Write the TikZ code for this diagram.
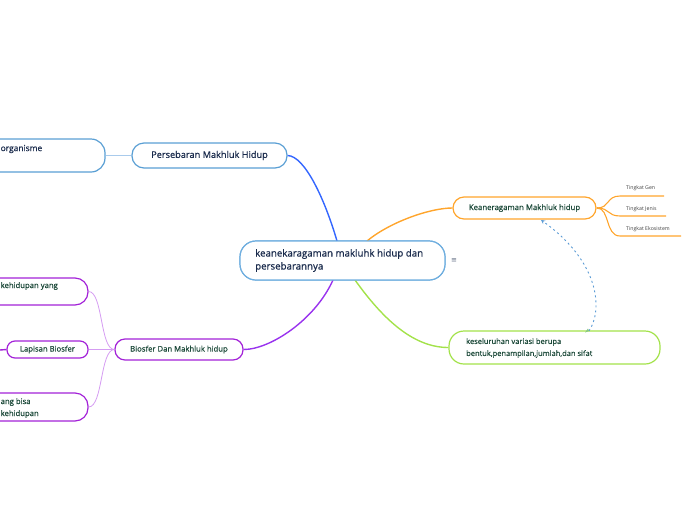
\documentclass[tikz,border=0pt]{standalone}
\usepackage{fontspec}
\setmainfont{Open Sans}[FakeBold=0.6]
\newfontfamily\thinf{Open Sans}
\newfontfamily\djv{DejaVu Sans}
\usetikzlibrary{arrows.meta}
\definecolor{navy}{HTML}{1A2B4C}
\definecolor{dgreen}{HTML}{1D4A3A}
\definecolor{cblue}{HTML}{6FAEDF}
\definecolor{pblue}{HTML}{5A9FD4}
\definecolor{lblue}{HTML}{A9CBEC}
\definecolor{mblue}{HTML}{3366FF}
\definecolor{corange}{HTML}{FFA52C}
\definecolor{cgreen}{HTML}{A3E24A}
\definecolor{cpurple}{HTML}{9933EE}
\definecolor{bpurple}{HTML}{A322D8}
\definecolor{lpurple}{HTML}{D59CF2}
\definecolor{dblue}{HTML}{5B9BD5}
\tikzset{
  x=1pt, y=1pt,
  pill/.style={draw, rectangle, line width=1.2pt, fill=white, inner sep=0pt},
  lbl/.style={inner sep=0pt, align=left},
  conn/.style={line width=1.4pt},
  sub/.style={line width=0.8pt},
}
\begin{document}
\begin{tikzpicture}
\useasboundingbox (0,0) rectangle (696,-520);
\clip (0,0) rectangle (696,-520);
\coordinate (cTopL) at (337,-241);
\coordinate (cTopR) at (367,-241);
\coordinate (cBotL) at (333,-280);
\coordinate (cBotR) at (355,-280);
% nodes
\node[pill, draw=cblue, minimum width=205, minimum height=39, rounded corners=16] (center) at (342.5,-260.5) {};
\node[inner sep=0pt, text=navy!70, font=\djv\fontsize{7}{8}\selectfont] (menu) at (454,-261) {≡};

\node[pill, draw=pblue, minimum width=155, minimum height=25, rounded corners=12, font=\fontsize{9.2}{11}\selectfont, text=navy] (pers) at (209.5,-155.5) {Persebaran Makhluk Hidup};
\node[pill, draw=pblue, minimum width=205, minimum height=33, rounded corners=14] (org) at (2.5,-155.5) {};
\node[lbl, anchor=west, text=navy, font=\fontsize{8.4}{11}\selectfont] (orgT) at (0.5,-149) {organisme};

\node[pill, draw=corange, minimum width=143, minimum height=22, rounded corners=11, font=\fontsize{7.8}{10}\selectfont, text=dgreen] (kean) at (524.5,-208) {Keaneragaman Makhluk hidup};

\node[pill, draw=cgreen, minimum width=211, minimum height=33, rounded corners=15] (kes) at (554.5,-347.5) {};
\node[lbl, anchor=west, text=dgreen, font=\fontsize{7.5}{12}\selectfont] (kesT) at (466,-348) {keseluruhan variasi berupa\\bentuk,penampilan,jumlah,dan sifat};

\node[pill, draw=bpurple, minimum width=128, minimum height=21, rounded corners=10, font=\fontsize{7.7}{10}\selectfont, text=dgreen] (bio) at (179,-349.5) {Biosfer Dan Makhluk hidup};
\node[pill, draw=bpurple, minimum width=81, minimum height=17, rounded corners=8, font=\fontsize{7.7}{10}\selectfont, text=dgreen] (lap) at (47.5,-349.5) {Lapisan Biosfer};
\node[pill, draw=bpurple, minimum width=208, minimum height=27, rounded corners=13] (kehA) at (-16,-291.5) {};
\node[lbl, anchor=west, text=dgreen, font=\fontsize{7.7}{10}\selectfont] (kehAT) at (0.5,-286) {kehidupan yang};
\node[pill, draw=bpurple, minimum width=208, minimum height=28, rounded corners=13] (kehB) at (-16,-407) {};
\node[lbl, anchor=west, text=dgreen, font=\fontsize{7.7}{12}\selectfont] (kehBT) at (0.5,-408) {ang bisa\\kehidupan};

% Tingkat labels
\tikzset{tk/.style={inner sep=0pt, anchor=base west, text=black!75, font=\thinf\fontsize{5.2}{6}\selectfont}}
\node[tk] (gen) at (626,-189.5) {Tingkat Gen};
\node[tk] (jen) at (626,-210.5) {Tingkat Jenis};
\node[tk] (eko) at (626,-230.5) {Tingkat Ekosistem};
\coordinate (genL) at (620,-196); \coordinate (genR) at (664,-196);
\coordinate (jenL) at (620,-216); \coordinate (jenR) at (666,-216);
\coordinate (ekoL) at (620,-236); \coordinate (ekoR) at (681,-236);
\coordinate (kJ) at (597,-208);

% main connectors
\draw[conn, mblue] (cTopL) .. controls (325,-200) and (305,-156) .. (pers.east);
\draw[conn, corange] (cTopR) .. controls (390,-222) and (430,-208) .. (kean.west);
\draw[conn, cpurple] (cBotL) .. controls (315,-320) and (270,-349.5) .. (bio.east);
\draw[conn, cgreen] (cBotR) .. controls (385,-322) and (415,-347.5) .. (kes.west);
\draw[conn, lblue] (org.east) -- (pers.west);
% purple children
\draw[sub, lpurple] (bio.west) .. controls (100,-349.5) and (103,-291.5) .. (kehA.east);
\draw[sub, lpurple] (bio.west) -- (lap.east);
\draw[sub, lpurple] (bio.west) .. controls (100,-349.5) and (103,-407) .. (kehB.east);
\coordinate (lapOut) at (0,-350);
\draw[conn, bpurple] (lap.west) -- (lapOut);
% orange children
\draw[corange, line width=1.1pt] (kean.east) -- (kJ);
\draw[corange, line width=1.1pt] (kJ) .. controls (610,-208) and (606,-196) .. (genL) -- (genR);
\draw[corange, line width=1.1pt] (kJ) .. controls (610,-208) and (607,-216) .. (jenL) -- (jenR);
\draw[corange, line width=1.1pt] (kJ) .. controls (610,-208) and (605,-236) .. (ekoL) -- (ekoR);
% dashed relation
\coordinate (relA) at (589,-331);
\coordinate (relB) at (541,-220);
\draw[dblue, line width=0.9pt, dash pattern=on 2pt off 3pt, -{Stealth[length=4pt,width=4pt]}] (relA) .. controls (603,-310) and (600,-262) .. (relB);
\fill[cgreen!60!dblue] (589,-331) -- ++(-4,-1.5) -- ++(3,4) -- cycle;
% central box on top of connectors
\node[pill, draw=cblue, minimum width=205, minimum height=39, rounded corners=16] (centerTop) at (342.5,-260.5) {};
\node[lbl, anchor=west, text=navy, font=\fontsize{9.7}{13}\selectfont] (centerT) at (255,-260.5) {keanekaragaman makluhk hidup dan\\persebarannya};
\end{tikzpicture}
\end{document}
